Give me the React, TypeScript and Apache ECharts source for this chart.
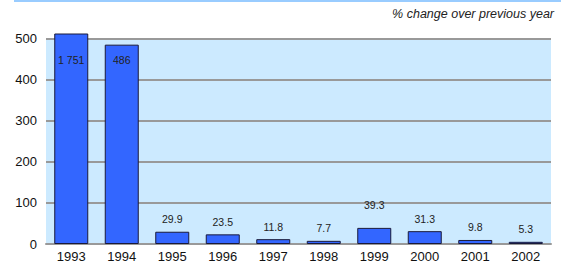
import React, { useEffect, useRef } from "react";
import * as echarts from "echarts";

const categories = ["1993", "1994", "1995", "1996", "1997", "1998", "1999", "2000", "2001", "2002"];
const values = [1751, 486, 29.9, 23.5, 11.8, 7.7, 39.3, 31.3, 9.8, 5.3];
const yTicks = [0, 100, 200, 300, 400, 500];
const subtitle = "% change over previous year";

const FONT = "'Liberation Sans', Arial, sans-serif";

function fmt(v: number): string {
  const s = String(v);
  const [i, d] = s.split(".");
  const withSep = i.replace(/\B(?=(\d{3})+(?!\d))/g, " ");
  return d ? withSep + "." + d : withSep;
}

export default function App() {
  const ref = useRef<HTMLDivElement>(null);
  useEffect(() => {
    if (!ref.current) return;
    const chart = echarts.init(ref.current, undefined, { renderer: "svg" });
    const axisMax = 512;
    const data = values.map((v, i) => {
      const item: any = { value: v };
      if (v > axisMax) {
        item.label = { position: "insideTop", distance: 21 };
      } else if (v > 300) {
        item.label = { position: "insideTop", distance: 10 };
      } else if (categories[i] === "1999") {
        item.label = { position: "top", distance: 17 };
      }
      return item;
    });
    chart.setOption({
      animation: false,
      grid: { left: 46, right: 10, top: 34, bottom: 27, containLabel: false },
      graphic: [
        {
          type: "line",
          shape: { x1: 14, y1: 1, x2: 561, y2: 1 },
          style: { stroke: "#99ccff", lineWidth: 2 },
        },
        {
          type: "text",
          right: 7,
          top: 7,
          style: {
            text: subtitle,
            font: "italic 12.5px 'Liberation Sans', Arial, sans-serif",
            fill: "#222",
          },
        },
      ],
      xAxis: {
        type: "category",
        data: categories,
        boundaryGap: true,
        axisTick: { show: false },
        axisLine: { show: true, lineStyle: { color: "#999", width: 2 } },
        axisLabel: { color: "#111", fontSize: 13, fontFamily: FONT, margin: 6 },
      },
      yAxis: {
        type: "value",
        min: 0,
        max: axisMax,
        interval: 100,
        axisLine: { show: false },
        axisTick: { show: false },
        axisLabel: {
          color: "#111",
          fontSize: 13,
          fontFamily: FONT,
          margin: 9,
          formatter: (v: number) => (yTicks.includes(v) ? String(v) : ""),
        },
        splitLine: { show: true, showMaxLine: false, lineStyle: { color: "#999", width: 2 } },
        splitArea: {
          show: true,
          areaStyle: {
            color: ["#cceaff", "#cceaff", "#cceaff", "#cceaff", "#cceaff", "rgba(0,0,0,0)"],
          },
        },
      },
      series: [
        {
          type: "bar",
          data,
          barWidth: 34,
          clip: true,
          itemStyle: { color: "#3366ff", borderColor: "#1a1a3a", borderWidth: 1 },
          label: {
            show: true,
            position: "top",
            distance: 7,
            color: "#222",
            fontSize: 10.5,
            fontFamily: FONT,
            formatter: (p: any) => fmt(p.value),
          },
        },
      ],
    });
    return () => chart.dispose();
  }, []);
  return (
    <div
      ref={ref}
      style={{ position: "fixed", left: 0, top: 0, width: 561, height: 271, background: "#fff" }}
    />
  );
}
